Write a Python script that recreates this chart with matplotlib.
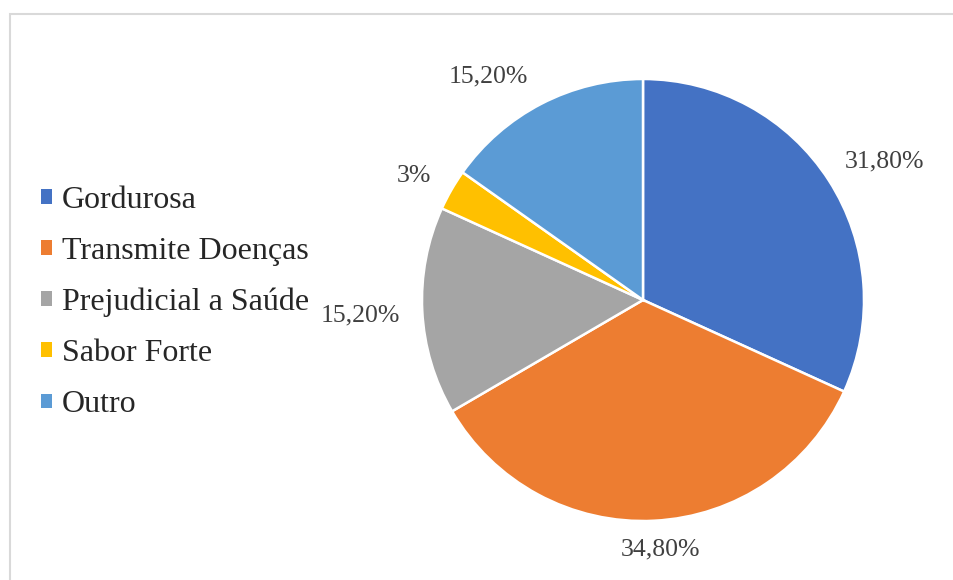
import numpy as np
import matplotlib.pyplot as plt
from matplotlib.patches import Rectangle

categories = ['Gordurosa', 'Transmite Doenças', 'Prejudicial a Saúde', 'Sabor Forte', 'Outro']
values = [31.8, 34.8, 15.2, 3.0, 15.2]
value_labels = ['31,80%', '34,80%', '15,20%', '3%', '15,20%']
colors = ['#4472C4', '#ED7D31', '#A5A5A5', '#FFC000', '#5B9BD5']

# label placement: radial distance (in radii) and angle shift (deg) from wedge middle
label_dist = [1.26, 1.13, 1.28, 1.18, 1.23]
label_shift = [-3.0, 1.2, 0.3, 1.4, 7.3]

plt.rcParams['font.family'] = ['Liberation Serif', 'DejaVu Serif']

W, H = 954, 580
fig = plt.figure(figsize=(W / 100, H / 100), dpi=100)

# light frame around the chart area
fig.patches.append(Rectangle((10 / W, -0.05), 1.2, (H - 14) / H + 0.05,
                             transform=fig.transFigure, fill=False,
                             edgecolor='#D9D9D9', linewidth=1.5))

# axes in pixel-like units, origin at bottom-left
ax = fig.add_axes([0, 0, 1, 1])
ax.set_xlim(0, W)
ax.set_ylim(0, H)
ax.set_aspect('equal')
ax.axis('off')

cx, cy, r = 643, H - 300, 221
wedges, _ = ax.pie(values, colors=colors, startangle=90, counterclock=False,
                   radius=r, center=(cx, cy), frame=True,
                   wedgeprops=dict(edgecolor='white', linewidth=1.8))
ax.set_xlim(0, W)
ax.set_ylim(0, H)
ax.axis('off')

for w, txt, d, s in zip(wedges, value_labels, label_dist, label_shift):
    mid = np.deg2rad((w.theta1 + w.theta2) / 2 + s)
    ax.text(cx + d * r * np.cos(mid), cy + d * r * np.sin(mid), txt,
            ha='center', va='center', fontsize=18.5, color='#404040')

leg = ax.legend(wedges, categories, loc='center left',
                bbox_to_anchor=(25 / W, (H - 302.5) / H), frameon=False,
                fontsize=23, handlelength=0.33, handleheight=0.33,
                handletextpad=0.32, labelspacing=0.69, borderpad=0)
for h in leg.legend_handles:
    h.set_edgecolor('none')
for t in leg.get_texts():
    t.set_color('#262626')

fig.savefig('out.png', dpi=100)
